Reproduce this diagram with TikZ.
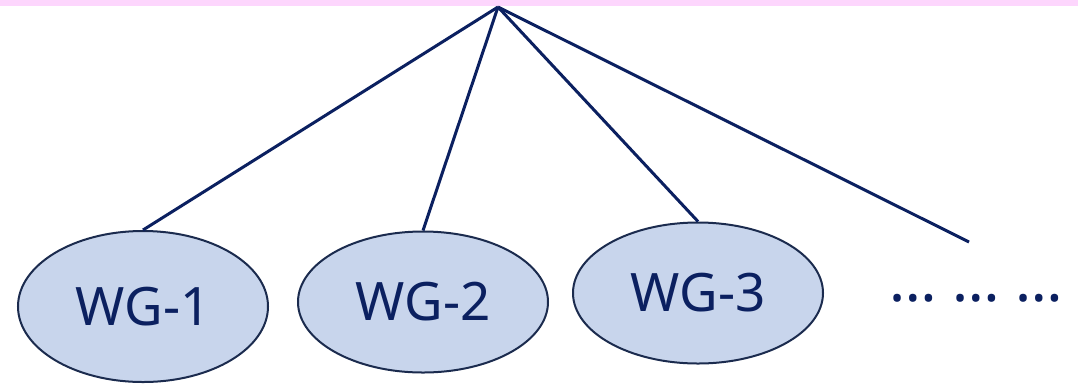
\documentclass[tikz,border=0pt]{standalone}
\usepackage{fontspec}
\setmainfont{Noto Sans}
\usetikzlibrary{shapes.geometric}
\definecolor{navy}{HTML}{0B2060}
\definecolor{rim}{HTML}{1B2B4E}
\definecolor{wgfill}{HTML}{C8D5EC}
\definecolor{band}{HTML}{FDD6FD}
\begin{document}
\begin{tikzpicture}[x=1pt,y=-1pt,
  wg/.style={ellipse, draw=rim, line width=2pt, fill=wgfill, inner sep=0pt,
    minimum width=250pt, text=navy, font=\fontsize{53}{60}\selectfont},
  link/.style={draw=navy, line width=3pt}]
\useasboundingbox (0,0) rectangle (1078,384);
% top band
\fill[band] (0,0) rectangle (1078,5.5);
\coordinate (root) at (498,7);
\coordinate (more) at (969,242);
% working groups
\node[wg, minimum height=151pt] (wg1) at (143,306.5) {WG-1};
\node[wg, minimum height=141pt] (wg2) at (423,302) {WG-2};
\node[wg, minimum height=141pt] (wg3) at (698,293) {WG-3};
\node[text=navy, font=\fontsize{60}{66}\selectfont, anchor=base, inner sep=0pt] (dots) at (976.5,301.5) {… … …};
% connectors
\draw[link] (root) -- (wg1.north);
\draw[link] (root) -- (wg2.north);
\draw[link] (root) -- (wg3.north);
\draw[link] (root) -- (more);
\end{tikzpicture}
\end{document}
